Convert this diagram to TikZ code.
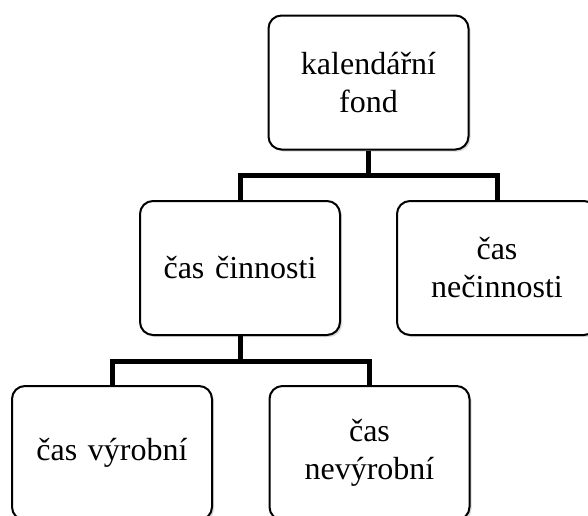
\documentclass[tikz,border=0pt]{standalone}
\usepackage{fontspec}
\setmainfont{Liberation Serif}
\usetikzlibrary{shadows}

\begin{document}
\begin{tikzpicture}[x=0.5pt, y=-0.5pt,
  unit/.style ={rectangle, draw, rounded corners=6.5pt, line width=1pt, fill=white,
    minimum width=100pt, minimum height=67pt, inner sep=0pt,
    text width=82pt, align=center, font=\fontsize{16}{19}\selectfont,
    drop shadow={opacity=0.3, shadow xshift=1pt, shadow yshift=-1pt}},
  link/.style ={line width=2.5pt}]
 \useasboundingbox (0,0) rectangle (588,515);
 \node[unit] (fond) at (368.5,82.5) {kalendářní fond};
 \node[unit] (cinnost) at (240,268) {čas činnosti};
 \node[unit] (necinnost) at (497,268) {čas nečinnosti};
 \node[unit] (vyrobni) at (112,453) {čas výrobní};
 \node[unit] (nevyrobni) at (369.5,453) {čas nevýrobní};
 \draw[link] (fond.south) -- ++(0,25) -| (cinnost.north);
 \draw[link] (fond.south) -- ++(0,25) -| (necinnost.north);
 \draw[link] (cinnost.south) -- ++(0,25) -| (vyrobni.north);
 \draw[link] (cinnost.south) -- ++(0,25) -| (nevyrobni.north);
\end{tikzpicture}
\end{document}
